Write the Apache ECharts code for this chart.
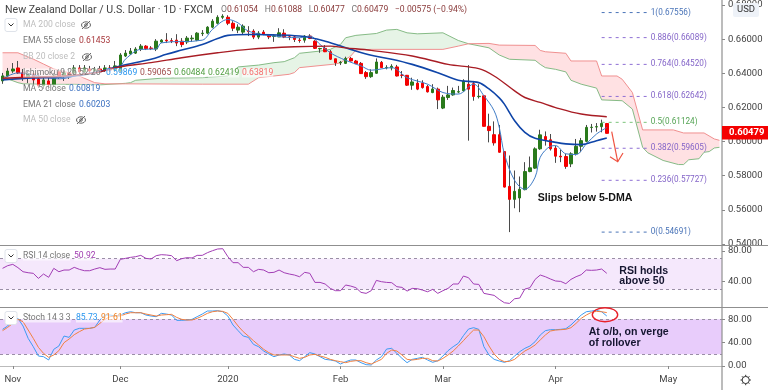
<!DOCTYPE html>
<html><head><meta charset="utf-8"><style>html,body{margin:0;padding:0;background:#fff}#c{width:768px;height:390px}</style>
<script src="https://cdn.jsdelivr.net/npm/echarts@6/dist/echarts.min.js"></script></head>
<body><div id="c"></div>
<script>
const monthTicks={2:'Nov',23:'Dec',44:'2020',66:'Feb',86:'Mar',108:'Apr',130:'May'};
const categoryCount=141;
const categories=Array.from({length:categoryCount},(_,i)=>monthTicks[i]||'');
const opens=[.6355,.6384,.6413,.6431,.6402,.6373,.6396,.6367,.6326,.6355,.6332,.6408,.6384,.6402,.6402,.6431,.6408,.6425,.6413,.6425,.6419,.6431,.6419,.6413,.6501,.6513,.6518,.6542,.6559,.6548,.6542,.6583,.6594,.6591,.6594,.6588,.6583,.6602,.6594,.6632,.6635,.6670,.6693,.6728,.6728,.6693,.6653,.6641,.6647,.6647,.6612,.6641,.6627,.6616,.6613,.6635,.6613,.6613,.6594,.6594,.6618,.6588,.6543,.6546,.6526,.6485,.6461,.6458,.6487,.6472,.6458,.6404,.6380,.6400,.6464,.6432,.6431,.6437,.6389,.6388,.6330,.6342,.6342,.6322,.6287,.6307,.6196,.6258,.6273,.6290,.6297,.6336,.6339,.6263,.6268,.6089,.6040,.6040,.5941,.5737,.5661,.5669,.5718,.5824,.5844,.5957,.6029,.6010,.5961,.5914,.5912,.5869,.5928,.5972,.6001,.6082,.6085,.6087,.61054];
const closes=[.6384,.6413,.6425,.6402,.6373,.6396,.6361,.6326,.6361,.6332,.6384,.6384,.6402,.6390,.6431,.6408,.6431,.6413,.6425,.6419,.6431,.6419,.6443,.6507,.6518,.6530,.6542,.6559,.6544,.6545,.6588,.6594,.6590,.6588,.6577,.6568,.6606,.6606,.6635,.6635,.6670,.6705,.6728,.6734,.6693,.6664,.6670,.6676,.6644,.6612,.6635,.6629,.6613,.6619,.6637,.6612,.6612,.6598,.6592,.6618,.6604,.6546,.6545,.6526,.6482,.6462,.6464,.6487,.6472,.6456,.6398,.6380,.6404,.6466,.6433,.6434,.6441,.6384,.6388,.6330,.6349,.6307,.6316,.6291,.6308,.6244,.6260,.6273,.6299,.6292,.6355,.6307,.6264,.6265,.6089,.6064,.5992,.5937,.5733,.5661,.5708,.5720,.5824,.5846,.5957,.6039,.6010,.5957,.5914,.5910,.5854,.5928,.5972,.6005,.6083,.6084,.6087,.6106,.60479];
const lows=[.6338,.6378,.6402,.6396,.6355,.6343,.6338,.6314,.6308,.6308,.6320,.6367,.6355,.6367,.6384,.6384,.6390,.6396,.6402,.6402,.6408,.6408,.6408,.6408,.6495,.6507,.6513,.6530,.6536,.6536,.6530,.6577,.6577,.6577,.6559,.6553,.6571,.6583,.6588,.6618,.6629,.6664,.6687,.6717,.6682,.6647,.6635,.6629,.6618,.6600,.6600,.6623,.6600,.6584,.6612,.6606,.6594,.6583,.6579,.6579,.6600,.6542,.6520,.6524,.6478,.6443,.6448,.6454,.6469,.6454,.6396,.6367,.6373,.6398,.6431,.6423,.6417,.6381,.6371,.6326,.6303,.6301,.6310,.6287,.6283,.6190,.6190,.6244,.6268,.6283,.6291,.6005,.6239,.6252,.6089,.5995,.5976,.5935,.5731,.54691,.5609,.5586,.5714,.5820,.5840,.5951,.5976,.5947,.5875,.5879,.5840,.5850,.5918,.5937,.5995,.6053,.6058,.6054,.60477];
const highs=[.6402,.6431,.6460,.6472,.6425,.6413,.6402,.6402,.6373,.6378,.6402,.6425,.6419,.6419,.6448,.6448,.6448,.6443,.6437,.6443,.6448,.6448,.6472,.6518,.6536,.6548,.6553,.6571,.6565,.6559,.6600,.6600,.6635,.6606,.6629,.6606,.6618,.6623,.6641,.6653,.6676,.6717,.6740,.6746,.6740,.6705,.6687,.6687,.6676,.6658,.6647,.6653,.6629,.6629,.6664,.6658,.6623,.6618,.6607,.6623,.6629,.6594,.6549,.6565,.6536,.6485,.6472,.6497,.6495,.6478,.6466,.6413,.6423,.6487,.6472,.6447,.6453,.6449,.6413,.6390,.6374,.6365,.6359,.6332,.6336,.6316,.6273,.6326,.6316,.6326,.6365,.6448,.6355,.6336,.6268,.6163,.6118,.6097,.5941,.5918,.5830,.5795,.5879,.5912,.5966,.6069,.6059,.6044,.5976,.5953,.5928,.5937,.6015,.6021,.6097,.6103,.6108,.6128,.61088];
const ma5=[[0,.6367],[3,.6402],[7,.6384],[11,.6367],[15,.6390],[19,.6413],[23,.6443],[24,.6483],[27,.6540],[30,.6542],[31,.6578],[39,.6594],[41,.6657],[44,.6715],[46,.6695],[48,.6647],[52,.6622],[58,.6608],[60,.6618],[62,.6569],[64,.6520],[67,.6476],[70,.6443],[72,.6418],[76,.6433],[79,.6374],[83,.6336],[86,.6287],[89,.6278],[92,.6336],[94,.6268],[96,.6180],[97,.6083],[98,.5928],[100,.5772],[102,.5720],[104,.5791],[105,.5908],[107,.5972],[108,.5976],[110,.5928],[112,.5924],[114,.5986],[116,.6044],[118,.60819]];
const ema21=[[0,.6361],[6,.6373],[12,.6378],[18,.6402],[23,.6443],[29,.6482],[32,.6511],[35,.6536],[39,.6569],[42,.6604],[44,.6622],[48,.6627],[58,.6618],[63,.6588],[68,.6540],[72,.6505],[76,.6482],[80,.6452],[85,.6403],[89,.6359],[93,.6345],[95,.6308],[97,.6256],[98,.6219],[100,.6122],[102,.6054],[104,.6019],[108,.5995],[110,.5986],[113,.5982],[116,.6005],[118,.60203]];
const ema55=[[0,.6371],[6,.6378],[12,.6384],[18,.6402],[23,.6438],[29,.6462],[35,.6491],[42,.6520],[48,.6540],[57,.6555],[64,.6559],[67,.6549],[72,.6534],[80,.6501],[87,.6452],[93,.6427],[96,.6384],[100,.6297],[102,.6258],[105,.6229],[108,.6199],[113,.6161],[118,.61453]];
const spanA=[[0,.6390],[1,.6367],[3,.6345],[4,.6338],[8,.6335],[14,.6335],[19,.6332],[24,.6341],[25,.6345],[26,.6359],[31,.6371],[39,.6374],[44,.6384],[46,.6437],[50,.6448],[53,.6462],[55,.6468],[57,.6491],[58,.6517],[62,.6530],[64,.6540],[66,.6569],[67,.6608],[69,.6622],[73,.6633],[75,.6653],[77,.6657],[79,.6637],[81,.6631],[86,.6637],[89,.6592],[91,.6573],[95,.6549],[97,.6507],[99,.6482],[104,.6476],[105,.6452],[106,.6433],[108,.6423],[110,.6408],[111,.6359],[113,.6336],[116,.6313],[117,.6244],[121,.6239],[123,.6190],[125,.5966],[126,.5934],[129,.5889],[132,.5865],[133,.5865],[134,.5893],[136,.5899],[137,.5937],[138,.5941],[139,.5962],[140,.5966]];
const spanB=[[0,.6520],[3,.6520],[6,.6483],[8,.6454],[10,.6425],[14,.6396],[18,.6345],[20,.6338],[24,.6338],[39,.6336],[48,.6336],[50,.6374],[53,.6384],[56,.6394],[57,.6404],[58,.6433],[65,.6454],[66,.6462],[68,.6501],[69,.6536],[72,.6540],[86,.6540],[89,.6559],[91,.6573],[95,.6575],[97,.6565],[104,.6563],[105,.6534],[106,.6526],[110,.6517],[111,.6472],[116,.6472],[117,.6384],[120,.6384],[121,.6365],[123,.6287],[125,.6068],[131,.6068],[133,.6050],[137,.6050],[139,.6015],[140,.6007]];
const cloudRegions=[[0,20,'rgba(255,70,80,0.16)'],[24,91,'rgba(76,175,80,0.14)'],[91,140,'rgba(255,70,80,0.16)']];
const rsi=[57.4,60.9,62.6,58.3,53.0,51.7,50.9,44.3,50.0,45.7,57.4,53,55.2,55.2,58.7,56.1,54.3,54.3,56.5,58.3,56.1,56.5,56.5,69.1,70.4,71.7,72.6,74.3,70.4,69.6,73.9,75.2,74.8,73.9,67.4,70,71.3,70.9,74.3,74.3,77.8,80.4,82.6,83,72.6,64.8,64.8,58.7,58.7,53,56.1,55.2,51.7,52.2,55.2,51.7,50,48.7,46.5,52.2,50.9,39.1,39.1,37,31.3,28.3,28.3,35.7,34.3,32.2,26.1,24.8,28.3,41.7,40,39.1,38.7,33.5,32.6,27.8,31.3,30.9,29.1,26.9,30,24.8,28.3,31.3,37,37,47.4,45.2,37,36.5,24.8,23.5,22.2,17,12.6,11.7,17.8,18.7,30.4,32.2,43,48.7,46.5,43.5,40.9,40.4,37.4,43,46.5,49.1,55.2,54.8,55.2,56.5,50.92];
const stochK=[62.9,68.6,78.9,81.7,68.6,47.4,33.1,17.1,16,10.3,28.6,34.3,51.4,49.1,61.7,64.6,64.6,64.6,66.3,78.9,87.4,87.4,85.7,87.4,91.4,93.1,91.4,91.4,87.4,85.7,84.6,90.3,89.1,87.4,78.3,78.3,78.9,80,84.6,89.1,94.3,94.3,94.9,93.1,85.7,70.3,60.6,51.4,49.1,37.1,33.1,25.7,20.6,16,18.9,20.6,18.9,11.4,9.1,16,22.9,20.6,16,11.4,10.3,8.6,3.4,7.4,10.3,10.3,5.7,2.3,1.7,10.3,16,29.1,30.3,21.7,13.1,5.7,11.4,13.1,14.9,10.3,6.3,9.1,17.1,26.3,33.1,38.9,52,63.4,65.7,62.9,33.1,18.9,11.4,8.6,6.3,9.1,17.1,24.6,30.3,34.3,41.7,53.1,60.6,62.3,62.3,62.9,64,70.3,78.9,87.4,93.1,94.3,95.4,93.1,85.73];
const stochD=[60.6,66.3,73.1,80,76,61.7,47.4,32,21.7,14.9,18.9,26.3,40,46.3,53.7,58.9,63.4,64.6,66.3,73.1,80,84.6,85.7,85.7,89.1,91.4,91.4,91.4,89.1,87.4,85.7,87.4,88,88.6,83.4,80,78.9,78.9,81.7,85.7,90.3,93.1,94.3,93.7,90.3,80,68.6,58.9,51.4,43.4,36,28.6,22.9,18.9,18.9,18.9,18.9,16,13.1,14.9,18.9,20,17.1,14.9,11.4,9.1,7.4,5.7,8,9.1,9.1,5.7,3.4,7.4,11.4,21.7,27.4,25.7,18.9,11.4,10.3,11.4,13.1,13.1,9.1,8.6,13.1,18.9,25.7,34.3,43.4,53.1,61.7,61.7,50.3,34.3,20.6,11.4,7.4,8,11.4,18.9,25.7,30.3,36,44.6,53.1,60,61.7,62.3,62.9,65.7,73.1,81.7,87.4,92,93.7,93.1,91.61];
const fibRatios=['1','0.886','0.764','0.618','0.5','0.382','0.236','0'];
const fibValues=[.67556,.66089,.64520,.62642,.61124,.59605,.57727,.54691];
const fibColors=['#4a74b8','#8e6fd4','#8e6fd4','#8e6fd4','#7cc47c','#8e6fd4','#8e6fd4','#4a74b8'];
const fibLabelColors=['#4a74b8','#8465c8','#8465c8','#8465c8','#55a455','#8465c8','#8465c8','#4a74b8'];
const lastPrice='0.60479';

const FONT='Roboto, "Open Sans", sans-serif';
const LEG='8.6px '+FONT;
const isTick=(i,v)=>v!=='';
const candles=opens.map((o,i)=>[o,closes[i],lows[i],highs[i]]);
const bodies=opens.map((o,i)=>[o,closes[i],Math.min(o,closes[i]),Math.max(o,closes[i])]);
const GREEN='#2a7a1c',RED='#f40000';
const lineS=(name,data,color,width,smooth)=>({name,type:'line',data,symbol:'none',smooth:smooth?0.35:false,xAxisIndex:0,yAxisIndex:0,z:5,silent:true,lineStyle:{color,width}});
const fibSeries=fibRatios.map((r,k)=>({type:'line',name:'fib'+r,xAxisIndex:0,yAxisIndex:0,z:6,silent:true,symbol:'none',
  lineStyle:{color:fibColors[k],width:1,type:[3,4]},
  endLabel:{show:true,distance:3,fontFamily:FONT,fontSize:8.2,color:fibLabelColors[k],formatter:r+'('+fibValues[k].toFixed(5)+')'},
  data:[[117,fibValues[k]],[126,fibValues[k]]]}));
const cloudRender=(params,api)=>{
  const [s,e,fill]=cloudRegions[params.dataIndex];
  const a=spanA.filter(p=>p[0]>=s&&p[0]<=e),b=spanB.filter(p=>p[0]>=s&&p[0]<=e).reverse();
  return {type:'polygon',silent:true,shape:{points:a.concat(b).map(p=>api.coord(p))},style:{fill}};
};
const band=(top,bot,fill)=>({silent:true,symbol:'none',data:[[{yAxis:top},{yAxis:bot}]],itemStyle:{color:fill}});
const dashes=(vals)=>({silent:true,symbol:'none',label:{show:false},lineStyle:{color:'#9a8ea6',type:[3,3],width:1},data:vals.map(v=>({yAxis:v}))});
const yAx=(grid,extra,custom)=>{
  const o={type:'value',gridIndex:grid,position:'right',scale:false,splitLine:{show:false},axisLine:{show:false},
    axisTick:{show:true,length:3,lineStyle:{color:'#888'}},
    axisLabel:{color:'#444',fontFamily:FONT,fontSize:9.5,margin:6,formatter:v=>v.toFixed(extra.digits)}};
  if(custom){o.axisTick.customValues=custom;o.axisLabel.customValues=custom;}
  return Object.assign(o,{min:extra.min,max:extra.max,interval:extra.interval});
};
const xAx=(grid,show)=>({type:'category',gridIndex:grid,data:categories,boundaryGap:true,show,offset:3,
  axisLine:{show:true,lineStyle:{color:'#bbb',width:1}},axisTick:{show:true,length:3,alignWithLabel:true,interval:isTick,lineStyle:{color:'#888'}},
  axisLabel:{interval:isTick,color:'#444',fontFamily:FONT,fontSize:9.5,margin:6,hideOverlap:false},splitLine:{show:false}});

const T=(text,x,y,color,o={})=>({type:'text',z:50,silent:true,x,y,style:Object.assign({text,fill:color,font:(o.font||LEG),verticalAlign:'middle',align:'left'},o.style||{})});
const fade='rgba(255,255,255,0.6)';
const L=(text,x,y,color)=>T(text,x,y,color,{style:{backgroundColor:fade}});
const dropdown=(y)=>[{type:'rect',z:49,silent:true,shape:{x:5,y:y-6.5,width:12,height:13,r:2},style:{fill:'#fff',stroke:'#dfe3ea',lineWidth:1}},
  {type:'polyline',z:50,silent:true,shape:{points:[[8.5,y-1.5],[11,y+1],[13.5,y-1.5]]},style:{stroke:'#333',fill:'none',lineWidth:1}}];
const eye=(x,y)=>[{type:'ellipse',z:50,silent:true,shape:{cx:x,cy:y,rx:4.5,ry:3.2},style:{fill:'none',stroke:'#666',lineWidth:1}},
  {type:'circle',z:50,silent:true,shape:{cx:x,cy:y,r:1.3},style:{fill:'none',stroke:'#666',lineWidth:1}},
  {type:'line',z:50,silent:true,shape:{x1:x-4,y1:y+4,x2:x+4,y2:y-4},style:{stroke:'#666',lineWidth:1}}];
const hl=(y,x2)=>({type:'line',z:40,silent:true,shape:{x1:0,y1:y,x2,y2:y},style:{stroke:'#8f8f8f',lineWidth:1.2}});
const gear=[];
for(let k=0;k<8;k++){const a=k*Math.PI/4;gear.push({type:'line',z:50,silent:true,shape:{x1:745.7+Math.cos(a)*3.6,y1:380+Math.sin(a)*3.6,x2:745.7+Math.cos(a)*5.2,y2:380+Math.sin(a)*5.2},style:{stroke:'#333',lineWidth:1}});}
gear.push({type:'circle',z:50,silent:true,shape:{cx:745.7,cy:380,r:3.6},style:{fill:'none',stroke:'#333',lineWidth:1}});
const ARROW='#ef5240';
const BOLD='bold 10.6px "Liberation Sans", sans-serif';
const graphics=[
  hl(245.5,768),hl(307.5,768),
  {type:'line',z:40,silent:true,shape:{x1:722,y1:0,x2:722,y2:390},style:{stroke:'#8f8f8f',lineWidth:1.2}},
  {type:'text',z:50,silent:true,x:5,y:10,style:{text:'New Zealand Dollar / U.S. Dollar · 1D · FXCM',fill:'#444',font:'10.6px '+FONT,verticalAlign:'middle'}},
  {type:'text',z:50,silent:true,x:221,y:10,style:{rich:{g:{fill:'#777',font:LEG},r:{fill:'#8a3b3b',font:LEG}},text:'{g|O}{r|0.61054}  {g|H}{r|0.61088}  {g|L}{r|0.60477}  {g|C}{r|0.60479}  {r|−0.00575 (−0.94%)}',verticalAlign:'middle'}},
  ...dropdown(25),
  T('MA 200 close',23,25,'#bdbdbd'),...eye(86,25),
  T('EMA 55 close',23,41,'#777'),T('0.61453',79,41,'#a8383c'),
  T('BB 20 close 2',23,57,'#bdbdbd'),...eye(87,57),
  L('Ichimoku 9 26 52 26',23,73,'#777'),L('0.59869',106,73,'#2a96ef'),L('0.59065',140,73,'#a04a4a'),L('0.60484',174,73,'#4f9d3f'),L('0.62419',208,73,'#4f9d3f'),L('0.63819',242,73,'#f66a6a'),
  L('MA 5 close',23,89,'#777'),L('0.60819',69,89,'#3a6fc0'),
  T('EMA 21 close',23,105,'#777'),T('0.60203',79,105,'#3a6fc0'),
  T('MA 50 close',23,120,'#bdbdbd'),...eye(81,120),
  ...dropdown(256),L('RSI 14 close',23,256,'#777'),L('50.92',74,256,'#a03cb0'),
  ...dropdown(318),L('Stoch 14 3 3',23,318,'#777'),L('85.73',76,318,'#2a96ef'),L('91.61',101,318,'#f2801e'),
  {type:'rect',z:50,silent:true,shape:{x:733,y:3,width:26,height:14,r:2},style:{fill:'#eef2f8'}},
  T('USD',737,10,'#333',{font:'9.5px '+FONT}),
  {type:'rect',z:50,silent:true,shape:{x:722,y:126,width:46,height:13.5},style:{fill:'#f40000'}},
  T(lastPrice,729,133,'#fff',{font:'bold 9.5px '+FONT}),
  {type:'line',z:45,silent:true,shape:{x1:611.7,y1:131.7,x2:617.7,y2:161.7},style:{stroke:ARROW,lineWidth:1.2}},
  {type:'polyline',z:45,silent:true,shape:{points:[[610,156.7],[617.7,161.7],[623,153]]},style:{stroke:ARROW,fill:'none',lineWidth:1.2}},
  {type:'ellipse',z:45,silent:true,shape:{cx:605,cy:314.7,rx:12.7,ry:7},style:{fill:'none',stroke:'#e8202a',lineWidth:1.4}},
  T('Slips below 5-DMA',537.7,197.7,'#151515',{font:BOLD}),
  T('RSI holds',619.3,271,'#151530',{font:BOLD}),
  T('above 50',619.3,281.5,'#151530',{font:BOLD}),
  T('At o/b, on verge',588.7,332.3,'#151530',{font:BOLD}),
  T('of rollover',588.7,343,'#151530',{font:BOLD}),
  ...gear
];
const chart=echarts.init(document.getElementById('c'),null,{renderer:'canvas'});
chart.setOption({
  animation:false,backgroundColor:'#fff',
  grid:[{left:0,right:46,top:3.7,height:240.2},{left:0,right:46,top:251,height:61.4},{left:0,right:46,top:307.7,height:58.3}],
  xAxis:[xAx(0,false),xAx(1,false),xAx(2,true)],
  yAxis:[yAx(0,{min:.54,max:.68,interval:.02,digits:5}),
    yAx(1,{min:0,max:80,interval:40,digits:2},[40,80]),
    yAx(2,{min:0,max:100,interval:20,digits:2},[0,40,80])],
  series:[
    {type:'custom',name:'Ichimoku cloud',xAxisIndex:0,yAxisIndex:0,z:1,silent:true,renderItem:cloudRender,clip:true,encode:{x:0,y:1},data:cloudRegions.map((r,i)=>[i,.6])},
    {...lineS('Span A',spanA,'#86bb86',1),z:2},
    {...lineS('Span B',spanB,'#f09090',1),z:2},
    {type:'candlestick',name:'wicks',xAxisIndex:0,yAxisIndex:0,z:3,silent:true,barWidth:1,data:candles,itemStyle:{color:'#4a4a4a',color0:'#4a4a4a',borderColor:'#4a4a4a',borderColor0:'#4a4a4a',borderWidth:1}},
    {type:'candlestick',name:'bodies',xAxisIndex:0,yAxisIndex:0,z:4,silent:true,barWidth:3,data:bodies,itemStyle:{color:GREEN,color0:RED,borderColor:GREEN,borderColor0:RED,borderWidth:1}},
    lineS('MA 5',ma5,'#3f7cc6',1,true),
    lineS('EMA 21',ema21,'#0f45a8',1.6,true),
    lineS('EMA 55',ema55,'#a81c24',1.4,true),
    ...fibSeries,
    {type:'line',name:'RSI',xAxisIndex:1,yAxisIndex:1,data:rsi,symbol:'none',silent:true,z:5,clip:false,lineStyle:{color:'#a23db5',width:1},
      markArea:band(70,30,'#f5e8fc'),markLine:dashes([70,30])},
    {type:'line',name:'%K',xAxisIndex:2,yAxisIndex:2,data:stochK,symbol:'none',silent:true,z:5,lineStyle:{color:'#3d9bf2',width:1},
      markArea:band(80,20,'#e8ccfb'),markLine:dashes([80,20])},
    {type:'line',name:'%D',xAxisIndex:2,yAxisIndex:2,data:stochD,symbol:'none',silent:true,z:6,lineStyle:{color:'#f08040',width:1}}
  ],
  graphic:graphics
});
</script></body></html>
